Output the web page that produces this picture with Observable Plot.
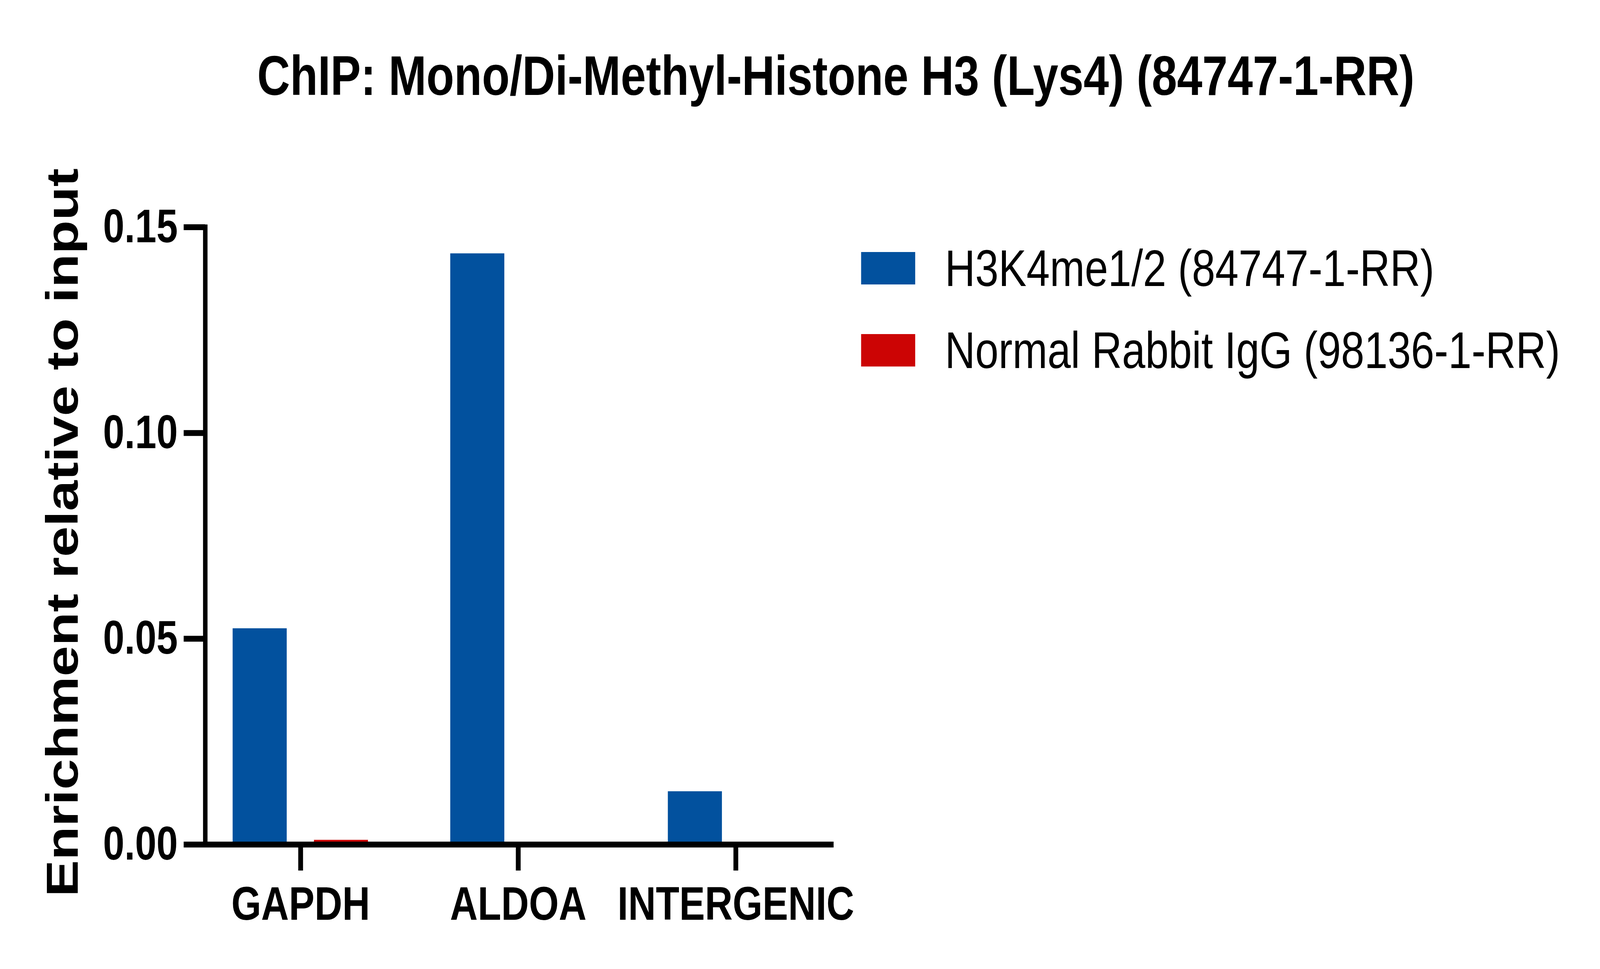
<!DOCTYPE html>
<html>
<head>
<meta charset="utf-8">
<script src="https://cdn.jsdelivr.net/npm/d3@7"></script>
<script src="https://cdn.jsdelivr.net/npm/@observablehq/plot@0.6"></script>
<style>
html, body { margin: 0; padding: 0; background: #fff; overflow: hidden; }
#wrap { position: absolute; left: 0; top: 0; width: 5000px; height: 2480px; transform-origin: 0 0;
        font-family: "Liberation Sans", Arial, sans-serif; color: #000; background: #fff; }
#title { position: relative; height: 330px; }
#title span { position: absolute; left: 2612px; top: 123px; transform: translateX(-50%); font-size: 142px; line-height: 142px; font-weight: bold; white-space: nowrap; }
#ylabel { position: absolute; left: 195px; top: 1363px; transform: translate(-50%, -50%) rotate(-90deg); font-size: 141px; line-height: 141px; font-weight: bold; white-space: nowrap; }
#legend { position: absolute; left: 2691px; top: 645px; }
.row { display: flex; align-items: center; height: 83px; margin-bottom: 127px; }
.sw { width: 169px; height: 83px; margin-right: 93px; flex: none; }
.lt { font-size: 131px; line-height: 131px; white-space: nowrap; }
#chart svg { display: block; max-width: none !important; }
</style>
</head>
<body>
<div id="wrap">
  <div id="title"><span></span></div>
  <div id="chart"></div>
  <div id="ylabel"></div>
  <div id="legend"></div>
</div>
<script>
// ---- data ----
const genes = ["GAPDH", "ALDOA", "INTERGENIC"];
const seriesNames = ["H3K4me1/2 (84747-1-RR)", "Normal Rabbit IgG (98136-1-RR)"];
const h3k4Values = [0.0525, 0.1436, 0.0129];
const iggValues = [0.0011, 0, 0];
const seriesColors = ["#02519e", "#cc0404"];
const yTicks = [0, 0.05, 0.10, 0.15];
const titleText = "ChIP: Mono/Di-Methyl-Histone H3 (Lys4) (84747-1-RR)";
const yLabelText = "Enrichment relative to input";

const rows = genes.flatMap((g, i) => [
  {gene: g, series: seriesNames[0], value: h3k4Values[i]},
  {gene: g, series: seriesNames[1], value: iggValues[i]}
]);

document.querySelector("#title span").textContent = titleText;
document.getElementById("ylabel").textContent = yLabelText;

const legend = document.getElementById("legend");
seriesNames.forEach((name, i) => {
  const row = document.createElement("div");
  row.className = "row";
  const sw = document.createElement("div");
  sw.className = "sw";
  sw.style.background = seriesColors[i];
  const t = document.createElement("span");
  t.className = "lt";
  t.textContent = name;
  row.appendChild(sw);
  row.appendChild(t);
  legend.appendChild(row);
});

const font = "'Liberation Sans', Arial, sans-serif";

const chart = Plot.plot({
  width: 5000,
  height: 2150,
  marginTop: 251,
  marginBottom: 319,
  marginLeft: 640,
  marginRight: 2401,
  style: {fontFamily: font, background: "white", color: "black", overflow: "visible"},
  fx: {domain: genes, paddingInner: 0.1233, paddingOuter: 0, align: 0.5},
  x: {domain: seriesNames, paddingInner: 1 / 3, paddingOuter: 0.337, axis: null},
  y: {domain: [0, 0.15]},
  color: {domain: seriesNames, range: seriesColors},
  marks: [
    Plot.barY(rows, {fx: "gene", x: "series", y: "value", fill: "series"}),
    Plot.frame({anchor: "left", facet: "super", stroke: "black", strokeWidth: 14, strokeLinecap: "square"}),
    Plot.frame({anchor: "bottom", facet: "super", stroke: "black", strokeWidth: 15, strokeLinecap: "square"}),
    Plot.axisY({ticks: yTicks, tickFormat: d3.format(".2f"), tickSize: 67, tickPadding: 19, strokeWidth: 15,
                fontSize: 120, fontWeight: "bold", label: null}),
    Plot.axisFx({anchor: "bottom", tickSize: 67, tickPadding: 40, strokeWidth: 15,
                 fontSize: 120, fontWeight: "bold", label: null})
  ]
});
document.getElementById("chart").appendChild(chart);

// The design space is 5000x2480; fit it to the actual window so nothing is cut off.
const wrap = document.getElementById("wrap");
function fit() {
  const sx = window.innerWidth / 5000;
  const sy = window.innerHeight / 2480;
  wrap.style.transform = "scale(" + sx + "," + sy + ")";
}
fit();
window.addEventListener("resize", fit);
</script>
</body>
</html>
